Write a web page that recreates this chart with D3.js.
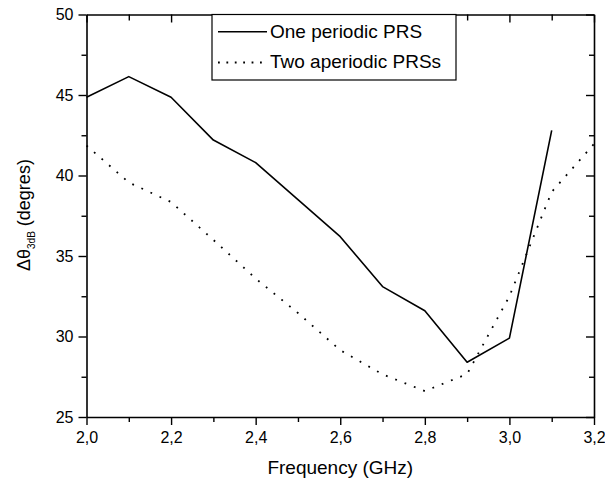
<!DOCTYPE html>
<html>
<head>
<meta charset="utf-8">
<script src="https://cdn.jsdelivr.net/npm/d3@7"></script>
<style>
  html, body { margin: 0; padding: 0; background: #fff; }
  svg { display: block; font-family: "Liberation Sans", Arial, sans-serif; }
</style>
</head>
<body>
<svg id="chart" width="605" height="483"></svg>
<script>
// ---- data ----
const freqOne = [2.0, 2.1, 2.2, 2.3, 2.4, 2.5, 2.6, 2.7, 2.8, 2.9, 3.0, 3.1];
const onePeriodicPRS = [44.86, 46.14, 44.86, 42.2, 40.8, 38.5, 36.2, 33.1, 31.6, 28.4, 29.9, 42.8];
const freqTwo = [2.0, 2.1, 2.2, 2.3, 2.4, 2.5, 2.6, 2.7, 2.8, 2.9, 3.0, 3.1, 3.2];
const twoAperiodicPRSs = [41.86, 39.57, 38.35, 36.0, 33.6, 31.46, 29.15, 27.65, 26.61, 27.67, 32.5, 38.98, 41.96];
const seriesNames = ["One periodic PRS", "Two aperiodic PRSs"];
const xMajorTicks = [2.0, 2.2, 2.4, 2.6, 2.8, 3.0, 3.2];
const xTickLabels = ["2,0", "2,2", "2,4", "2,6", "2,8", "3,0", "3,2"];
const xMinorTicks = [2.1, 2.3, 2.5, 2.7, 2.9, 3.1];
const yMajorTicks = [25, 30, 35, 40, 45, 50];
const yMinorTicks = [27.5, 32.5, 37.5, 42.5, 47.5];
const xTitle = "Frequency (GHz)";

// ---- layout ----
const L = 86.5, R = 594, T = 14.5, B = 417;
const svg = d3.select("#chart");
const x = d3.scaleLinear().domain([2.0, 3.2]).range([L, R]);
const y = d3.scaleLinear().domain([25, 50]).range([B, T]);

function styleAxis(g) {
  g.selectAll("path.domain").attr("stroke", "#000").attr("stroke-width", 1.6);
  g.selectAll(".tick line").attr("stroke", "#000").attr("stroke-width", 1.4);
  g.selectAll("text").attr("fill", "#000").attr("font-size", 16)
    .attr("font-family", "'Liberation Sans', Arial, sans-serif");
}

// bottom axis
const gb = svg.append("g").attr("transform", `translate(0,${B})`)
  .call(d3.axisBottom(x).tickValues(xMajorTicks)
    .tickFormat((d, i) => xTickLabels[i]).tickSizeInner(8).tickSizeOuter(0).tickPadding(7));
styleAxis(gb);
svg.append("g").attr("transform", `translate(0,${B})`)
  .call(d3.axisBottom(x).tickValues(xMinorTicks).tickFormat("").tickSizeInner(5).tickSizeOuter(0))
  .call(g => { g.select(".domain").remove(); styleAxis(g); });

// left axis
const gl = svg.append("g").attr("transform", `translate(${L},0)`)
  .call(d3.axisLeft(y).tickValues(yMajorTicks).tickFormat(d3.format("d"))
    .tickSizeInner(8).tickSizeOuter(0).tickPadding(5));
styleAxis(gl);
svg.append("g").attr("transform", `translate(${L},0)`)
  .call(d3.axisLeft(y).tickValues(yMinorTicks).tickFormat("").tickSizeInner(5).tickSizeOuter(0))
  .call(g => { g.select(".domain").remove(); styleAxis(g); });

// top axis (inward ticks)
const gt = svg.append("g").attr("transform", `translate(0,${T})`)
  .call(d3.axisTop(x).tickValues(xMajorTicks).tickFormat("").tickSizeInner(-8).tickSizeOuter(0));
styleAxis(gt);
svg.append("g").attr("transform", `translate(0,${T})`)
  .call(d3.axisTop(x).tickValues(xMinorTicks).tickFormat("").tickSizeInner(-6).tickSizeOuter(0))
  .call(g => { g.select(".domain").remove(); styleAxis(g); });

// right axis (inward ticks)
const gr = svg.append("g").attr("transform", `translate(${R},0)`)
  .call(d3.axisRight(y).tickValues(yMajorTicks).tickFormat("").tickSizeInner(-8).tickSizeOuter(0));
styleAxis(gr);
svg.append("g").attr("transform", `translate(${R},0)`)
  .call(d3.axisRight(y).tickValues(yMinorTicks).tickFormat("").tickSizeInner(-5).tickSizeOuter(0))
  .call(g => { g.select(".domain").remove(); styleAxis(g); });

// lines
const line = d3.line().x(d => x(d[0])).y(d => y(d[1]));
svg.append("path")
  .datum(freqOne.map((f, i) => [f, onePeriodicPRS[i]]))
  .attr("d", line).attr("fill", "none").attr("stroke", "#000")
  .attr("stroke-width", 1.6).attr("stroke-linejoin", "round");
svg.append("path")
  .datum(freqTwo.map((f, i) => [f, twoAperiodicPRSs[i]]))
  .attr("d", line).attr("fill", "none").attr("stroke", "#000")
  .attr("stroke-width", 1.8).attr("stroke-dasharray", "1.8,8.2");

// legend
const lg = svg.append("g");
lg.append("rect").attr("x", 212).attr("y", T).attr("width", 244).attr("height", 80 - T)
  .attr("fill", "#fff").attr("stroke", "#000").attr("stroke-width", 1.2);
const rows = [{y: 31.7, tb: 38.3, dash: null}, {y: 62.5, tb: 67.8, dash: "1.8,6.6"}];
rows.forEach((r, i) => {
  lg.append("line").attr("x1", 218).attr("x2", 267).attr("y1", r.y).attr("y2", r.y)
    .attr("stroke", "#000").attr("stroke-width", i === 0 ? 1.6 : 1.8)
    .attr("stroke-dasharray", r.dash);
  lg.append("text").attr("x", 270).attr("y", r.tb).attr("font-size", 19)
    .attr("fill", "#000").text(seriesNames[i]);
});

// axis titles
svg.append("text").attr("x", (L + R) / 2).attr("y", 474).attr("text-anchor", "middle")
  .attr("font-size", 19).attr("fill", "#000").text(xTitle);

const yt = svg.append("text").attr("transform", `translate(30,271) rotate(-90)`)
  .attr("text-anchor", "start").attr("font-size", 18).attr("fill", "#000")
  .attr("font-family", "'Liberation Sans', Arial, sans-serif");
yt.append("tspan").text("Δθ");
yt.append("tspan").attr("font-size", 10).attr("dy", 5).text("3dB");
yt.append("tspan").attr("dy", -5).text(" (degres)");
</script>
</body>
</html>
